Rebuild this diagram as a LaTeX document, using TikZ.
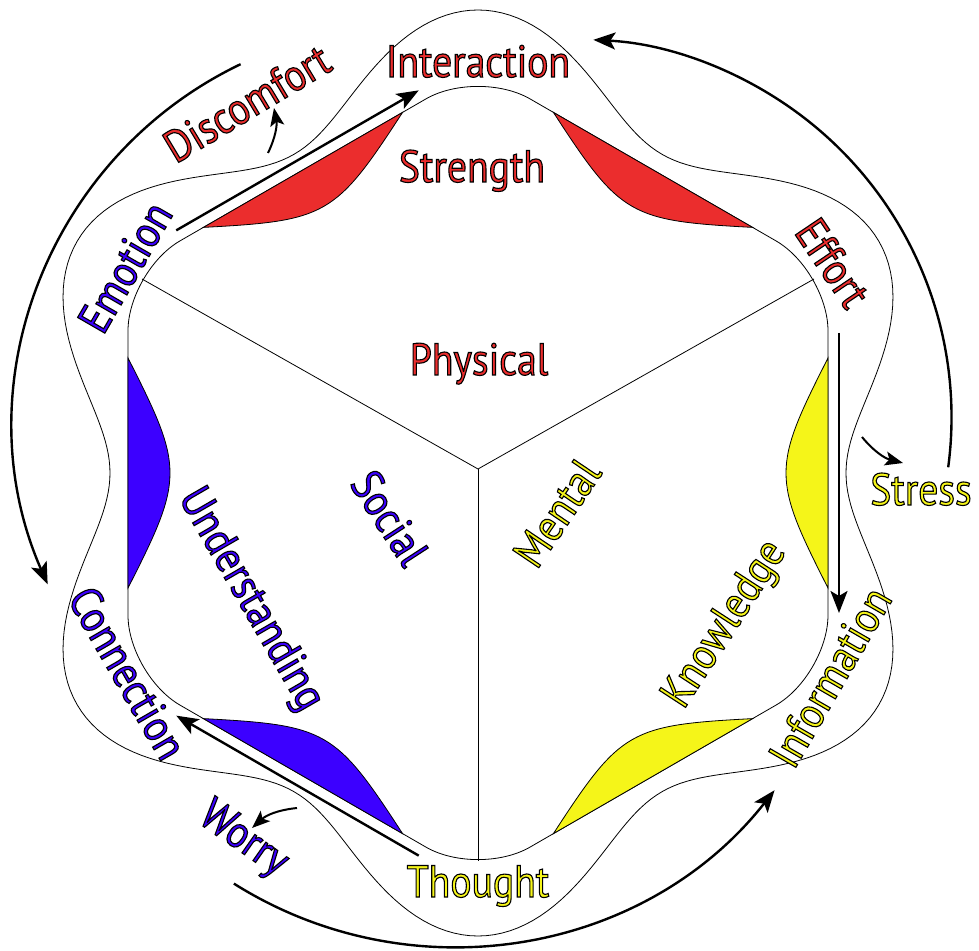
\documentclass[tikz,border=0pt]{standalone}
\usepackage{fontspec}
\newfontfamily\lblfont[FakeStretch=0.88]{PT Sans}
\usetikzlibrary{arrows.meta,calc}

\definecolor{physred}{RGB}{235,45,45}
\definecolor{socblue}{RGB}{60,0,255}
\definecolor{mentyel}{RGB}{245,245,25}

\tikzset{
  lbl/.style={font=\lblfont\fontsize{45}{50}\selectfont, inner sep=0pt},
  edge/.style={line width=0.8pt},
  flow/.style={line width=2.4pt, -{Stealth[length=22pt,width=17pt,inset=5pt]}},
  nudge/.style={line width=2pt, -{Stealth[length=18pt,width=14pt,inset=4pt]}}
}
% text filled in colour and stroked in black
\newcommand{\olbl}[1]{{\special{pdf:literal direct 0 G 2 Tr 1.1 w}#1\special{pdf:literal direct 0 Tr}}}

\begin{document}
\begin{tikzpicture}[x=1pt,y=1pt]
\fill[white] (-478,-477) rectangle (501,473);
\useasboundingbox (-478,-477) rectangle (501,473);
% Band, outer edge
\draw[edge] plot[domain=0:360, samples=361] (\x:{415.5-47.5*cos(6*\x)}) -- cycle;
% Band, inner edge
\draw[edge, rounded corners=60pt] (0:350) -- (30:404.15) -- (90:404.15) -- (150:404.15)
  -- (210:404.15) -- (270:404.15) -- (330:404.15) -- cycle;
% Lenses
\foreach \ang/\col in {0/mentyel, 60/physred, 120/physred, 180/socblue, 240/socblue, 300/mentyel}{
  \filldraw[edge, fill=\col, rotate=\ang] (350,-115) .. controls (294,-5) and (294,5) .. (350,115) -- cycle;
}
% Spokes
\coordinate (hub) at (0,4);
\foreach \ang in {30,150,270}{
  \coordinate (peak\ang) at (\ang:388);
  \draw[edge] (hub) -- (peak\ang);
}
% Arrows along the band
\foreach \mid in {120,0,240}{
  \coordinate (fa\mid) at ($(\mid:361)+(\mid+90:140)$);
  \coordinate (fb\mid) at ($(\mid:361)+(\mid-90:140)$);
  \draw[flow] (fa\mid) -- (fb\mid);
}
% Outer arcs
\coordinate (arcR) at (470.2,5.7);
\coordinate (arcL) at (-237.4,408.8);
\coordinate (arcB) at (-244.1,-410.6);
\draw[flow] (arcR) arc[start angle=-7.6, end angle=87, radius=378];
\draw[flow] (arcL) arc[start angle=115.6, end angle=203.7, radius=399];
\draw[flow] (arcB) arc[start angle=237.8, end angle=321.8, radius=410];
% Side arrows
\coordinate (dis0) at (-210,320);
\coordinate (dis1) at (-204,365);
\coordinate (str0) at (384,36);
\coordinate (str1) at (425,10);
\coordinate (wor0) at (-181,-335);
\coordinate (wor1) at (-226,-355);
\draw[nudge] (dis0) to[bend right=18] (dis1);
\draw[nudge] (str0) to[bend right=18] (str1);
\draw[nudge] (wor0) to[bend right=18] (wor1);
% Labels
\node[lbl, text=physred, anchor=base] (interaction) at (0,396) {\olbl{Interaction}};
\node[lbl, text=physred, anchor=base] (strength) at (-6,291) {\olbl{Strength}};
\node[lbl, text=physred, anchor=base] (physical) at (1,98) {\olbl{Physical}};
\node[lbl, text=physred, rotate=-56] (effort) at (355,210) {\olbl{Effort}};
\node[lbl, text=physred, rotate=31] (discomfort) at (-231,370) {\olbl{Discomfort}};
\node[lbl, text=socblue, rotate=60] (emotion) at (-353,206) {\olbl{Emotion}};
\node[lbl, text=socblue, rotate=-60] (connection) at (-350,-200) {\olbl{Connection}};
\node[lbl, text=socblue, rotate=-60] (understanding) at (-228,-127) {\olbl{Understanding}};
\node[lbl, text=socblue, rotate=-57] (social) at (-88,-45) {\olbl{Social}};
\node[lbl, text=socblue, rotate=-35] (worry) at (-235,-367) {\olbl{Worry}};
\node[lbl, text=mentyel, anchor=base] (thought) at (0,-424) {\olbl{Thought}};
\node[lbl, text=mentyel, anchor=base] (stress) at (443,-32) {\olbl{Stress}};
\node[lbl, text=mentyel, rotate=60] (information) at (352,-204) {\olbl{Information}};
\node[lbl, text=mentyel, rotate=57] (knowledge) at (248,-152) {\olbl{Knowledge}};
\node[lbl, text=mentyel, rotate=56] (mental) at (79,-40) {\olbl{Mental}};
\end{tikzpicture}
\end{document}
